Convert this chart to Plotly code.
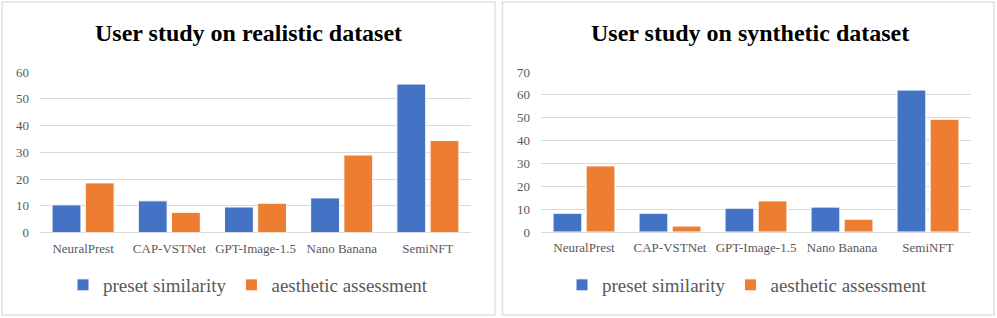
import plotly.graph_objects as go

categories = ["NeuralPrest", "CAP-VSTNet", "GPT-Image-1.5", "Nano Banana", "SemiNFT"]
series_names = ["preset similarity", "aesthetic assessment"]
realistic_preset = [10.4, 11.9, 9.6, 13.0, 55.5]
realistic_aesthetic = [18.6, 7.6, 11.0, 29.0, 34.4]
synthetic_preset = [8.2, 8.2, 10.4, 10.9, 62.1]
synthetic_aesthetic = [28.9, 2.6, 13.6, 5.6, 49.3]
titles = ["User study on realistic dataset", "User study on synthetic dataset"]
y_ticks_left = [0, 10, 20, 30, 40, 50, 60]
y_ticks_right = [0, 10, 20, 30, 40, 50, 60, 70]

BLUE = "#4472C4"
ORANGE = "#ED7D31"
TXT = "#595959"
GRID = "#D9D9D9"
FONT = "Liberation Serif"

W, H = 997, 318

def px(x):
    return x / W

def py(y):
    return 1 - y / H

def serif(s):
    return "<span style='font-family:Liberation Serif'>" + s + "</span>"

fig = go.Figure()

panels = [
    dict(xa="x", ya="y", pre=realistic_preset, aes=realistic_aesthetic, legend="legend"),
    dict(xa="x2", ya="y2", pre=synthetic_preset, aes=synthetic_aesthetic, legend="legend2"),
]
for p in panels:
    fig.add_trace(go.Bar(x=categories, y=p["pre"], name=serif(series_names[0]), xaxis=p["xa"], yaxis=p["ya"],
                         marker=dict(color=BLUE, line=dict(color="white", width=1)), legend=p["legend"]))
    fig.add_trace(go.Bar(x=categories, y=p["aes"], name=serif(series_names[1]), xaxis=p["xa"], yaxis=p["ya"],
                         marker=dict(color=ORANGE, line=dict(color="white", width=1)), legend=p["legend"]))

axis_common = dict(showline=False, ticks="", automargin=False, ticklabelstandoff=6,
                   tickfont=dict(family=FONT, size=13, color=TXT))
yaxis_common = dict(showgrid=True, gridcolor=GRID, gridwidth=1.3, zeroline=True, zerolinecolor=GRID,
                    zerolinewidth=1.3, ticks="", showline=False, automargin=False,
                    tickfont=dict(family=FONT, size=13, color=TXT), ticklabelstandoff=10)

legend_common = dict(orientation="h", xanchor="center", y=py(285), yanchor="middle",
                     font=dict(family=FONT, size=19, color=TXT), itemwidth=30,
                     bgcolor="rgba(0,0,0,0)", tracegroupgap=0)

fig.update_layout(
    width=W, height=H,
    font=dict(family=FONT, color=TXT),
    margin=dict(l=0, r=0, t=0, b=0, autoexpand=False),
    paper_bgcolor="white", plot_bgcolor="white",
    barmode="group", bargap=0.23, bargroupgap=0.13,
    xaxis=dict(domain=[px(40), px(471)], anchor="y", **axis_common),
    yaxis=dict(domain=[py(232.7), py(72)], range=[0, 60], tickvals=y_ticks_left, anchor="x", **yaxis_common),
    xaxis2=dict(domain=[px(541), px(971)], anchor="y2", **axis_common),
    yaxis2=dict(domain=[py(232), py(72)], range=[0, 70], tickvals=y_ticks_right, anchor="x2", **yaxis_common),
    legend=dict(x=px(248), **legend_common),
    legend2=dict(x=px(747), **legend_common),
    shapes=[
        dict(type="rect", xref="paper", yref="paper", x0=px(2), x1=px(495), y0=py(315), y1=py(2),
             line=dict(color="#DEE2E8", width=1.5)),
        dict(type="rect", xref="paper", yref="paper", x0=px(502.5), x1=px(994), y0=py(315), y1=py(2),
             line=dict(color="#DEE2E8", width=1.5)),
    ],
    annotations=[
        dict(text="<b>" + titles[0] + "</b>", x=px(248), y=py(33), xref="paper", yref="paper",
             showarrow=False, xanchor="center", yanchor="middle",
             font=dict(family=FONT, size=24, color="black")),
        dict(text="<b>" + titles[1] + "</b>", x=px(750), y=py(33), xref="paper", yref="paper",
             showarrow=False, xanchor="center", yanchor="middle",
             font=dict(family=FONT, size=24, color="black")),
    ],
)

post = ("document.documentElement.style.margin='0';document.body.style.margin='0';"
        "document.body.style.overflow='hidden';")

fig.write_html("out.html", config={"displayModeBar": False}, post_script=post)
